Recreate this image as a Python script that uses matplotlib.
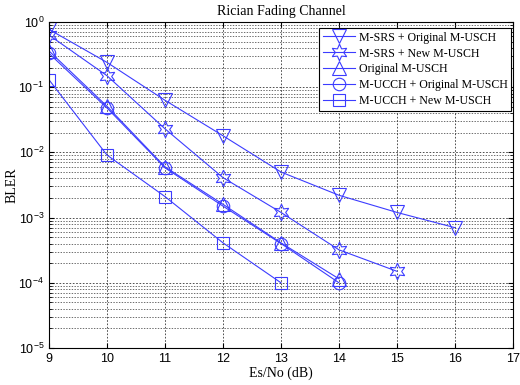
import numpy as np
import matplotlib

matplotlib.use("Agg")
import matplotlib.pyplot as plt
from matplotlib.ticker import LogLocator, NullFormatter

# ---------------------------------------------------------------------------
# Data
# ---------------------------------------------------------------------------
snr_srs_orig = [9, 10, 11, 12, 13, 14, 15, 16]
bler_srs_orig = [0.77, 0.24, 0.063, 0.018, 0.005, 0.0022, 0.0012, 0.0007]

snr_srs_new = [9, 10, 11, 12, 13, 14, 15]
bler_srs_new = [0.63, 0.15, 0.023, 0.0041, 0.0012, 0.00032, 0.00015]

snr_orig = [9, 10, 11, 12, 13, 14]
bler_orig = [0.36, 0.051, 0.006, 0.0016, 0.00041, 0.000115]

snr_ucch_orig = [9, 10, 11, 12, 13, 14]
bler_ucch_orig = [0.33, 0.048, 0.0058, 0.0015, 0.0004, 0.0001]

snr_ucch_new = [9, 10, 11, 12, 13]
bler_ucch_new = [0.13, 0.0091, 0.0021, 0.00041, 0.0001]

labels = ["M-SRS + Original M-USCH", "M-SRS + New M-USCH", "Original M-USCH",
          "M-UCCH + Original M-USCH", "M-UCCH + New M-USCH"]

# ---------------------------------------------------------------------------
plt.rcParams["mathtext.fontset"] = "custom"
plt.rcParams["mathtext.rm"] = "Liberation Sans"
plt.rcParams["mathtext.it"] = "Liberation Sans"

BLUE = "#3c3cff"
SERIF = "Liberation Serif"
SANS = "Liberation Sans"

fig = plt.figure(figsize=(5.2, 3.85), dpi=100)
ax = fig.add_axes([49 / 520, 1 - 348 / 385, 464 / 520, 326 / 385])

series = [
    (snr_srs_orig, bler_srs_orig, "v", 10),
    (snr_srs_new, bler_srs_new, (6, 1, 0), 12),
    (snr_orig, bler_orig, "^", 10),
    (snr_ucch_orig, bler_ucch_orig, "o", 9),
    (snr_ucch_new, bler_ucch_new, "s", 9),
]
for (x, y, m, ms), lab in zip(series, labels):
    ax.semilogy(x, y, color=BLUE, lw=0.8, marker=m, markersize=ms,
                markerfacecolor="none", markeredgecolor=BLUE,
                markeredgewidth=0.8, label=lab)

ax.set_xlim(9, 17)
ax.set_ylim(1e-5, 1)
ax.set_xticks(np.arange(9, 18))
ax.yaxis.set_major_locator(LogLocator(base=10, numticks=10))
ax.yaxis.set_minor_locator(LogLocator(base=10, subs=np.arange(2, 10), numticks=20))
ax.yaxis.set_minor_formatter(NullFormatter())

ax.grid(which="major", color="#333333", linestyle=(0, (2, 2)), linewidth=0.6)
ax.grid(which="minor", axis="y", color="#333333", linestyle=(0, (2, 2)), linewidth=0.5)
ax.tick_params(which="both", direction="in", top=True, right=True, labelsize=9)
ax.tick_params(which="minor", length=2)
for lbl in ax.get_xticklabels() + ax.get_yticklabels():
    lbl.set_fontfamily(SANS)
for sp in ax.spines.values():
    sp.set_linewidth(0.8)

ax.set_title("Rician Fading Channel", fontfamily=SERIF, fontsize=10, pad=5)
ax.set_xlabel("Es/No (dB)", fontfamily=SERIF, fontsize=10, labelpad=1)
ax.set_ylabel("BLER", fontfamily=SERIF, fontsize=10)
ax.yaxis.set_label_coords(-30 / 464, 0.5)

leg = ax.legend(loc="upper right", prop={"family": SERIF, "size": 8.6},
                bbox_to_anchor=(511 / 520, 1 - 28 / 385),
                bbox_transform=fig.transFigure,
                fancybox=False, framealpha=1, edgecolor="black",
                handlelength=2.7, borderpad=0.3, labelspacing=0.33,
                handletextpad=0.3, borderaxespad=0.0)
leg.get_frame().set_linewidth(0.8)

fig.savefig("out.png", dpi=100)
